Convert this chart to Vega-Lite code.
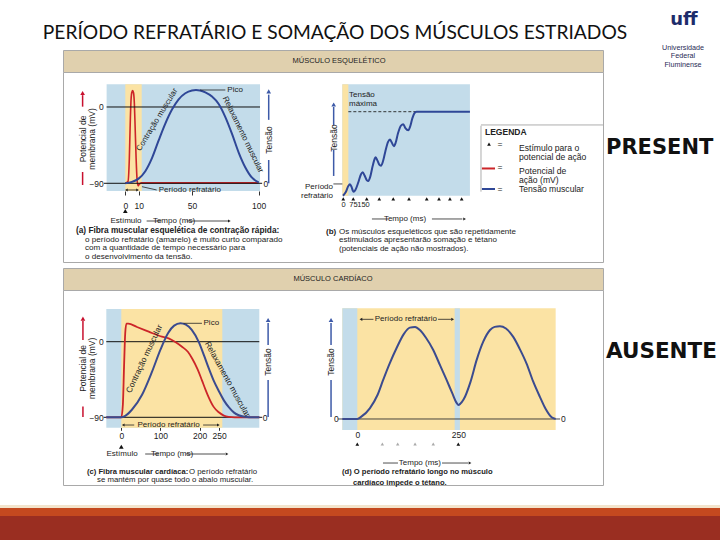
{
"$schema": "https://vega.github.io/schema/vega-lite/v6.json",
"padding": 0,
"background": "white",
"spacing": 0,
"bounds": "flush",
"align": "each",
"columns": 3,
"config": {
 "view": {"stroke": null},
 "font": "Liberation Sans",
 "text": {"font": "Liberation Sans", "fontSize": 8, "color": "#222"},
 "axis": {"grid": false, "domain": false, "ticks": false, "labelFont": "Liberation Sans", "labelFontSize": 8.5, "labelColor": "#222", "labelOverlap": false, "labelFlush": false, "tickColor": "#333"},
 "point": {"filled": true, "opacity": 1},
 "rule": {"color": "#222", "strokeWidth": 0.8}
},
"concat": [
 {"width": 63, "height": 50, "data": {"values": [{}]}, "mark": {"type": "text", "text": ""}, "encoding": {}},
 {"width": 540, "height": 50, "data": {"values": [{}]}, "mark": {"type": "text", "text": "PERÍODO REFRATÁRIO E SOMAÇÃO DOS MÚSCULOS ESTRIADOS", "font": "Lato", "fontSize": 19.2, "color": "#111", "align": "center", "baseline": "middle", "dx": 2, "dy": 8}, "encoding": {}},
 {"width": 117, "height": 50, "data": {"values": [{}]}, "layer": [
  {"mark": {"type": "text", "text": "uff", "font": "DejaVu Sans", "fontWeight": "bold", "fontSize": 18, "color": "#1d2c6b", "align": "center", "baseline": "middle", "dx": 22.5, "dy": -5}, "encoding": {}},
  {"mark": {"type": "text", "text": "Universidade\nFederal\nFluminense", "lineBreak": "\n", "lineHeight": 8.8, "fontSize": 7.2, "color": "#1f2a55", "align": "center", "baseline": "middle", "dx": 21.5, "dy": 22.7}, "encoding": {}}
 ]},

 {"width": 63, "height": 22, "data": {"values": [{}]}, "mark": {"type": "text", "text": ""}, "encoding": {}},
 {"width": 540, "height": 22, "view": {"fill": "#e0d0ae", "stroke": "#a9a9a9"}, "data": {"values": [{}]}, "mark": {"type": "text", "text": "MÚSCULO ESQUELÉTICO", "fontSize": 7.5, "color": "#222", "align": "center", "baseline": "middle", "dx": 6}, "encoding": {}},
 {"width": 117, "height": 22, "data": {"values": [{}]}, "mark": {"type": "text", "text": ""}, "encoding": {}},

 {"width": 63, "height": 190, "data": {"values": [{}]}, "mark": {"type": "text", "text": ""}, "encoding": {}},
 {"width": 540, "height": 190, "view": {"fill": "white", "stroke": "#a9a9a9"},
  "resolve": {"scale": {"x": "independent", "y": "independent"}},
  "layer": [
   {"encoding": {
     "x": {"field": "t", "type": "quantitative", "scale": {"domain": [-14, 101], "range": [43.62, 197.03], "nice": false, "zero": false}, "axis": {"orient": "bottom", "offset": -71, "values": [0, 10, 50, 100], "title": null, "ticks": true, "tickSize": 4, "labelPadding": 6}},
     "y": {"field": "v", "type": "quantitative", "scale": {"domain": [-99.1, 26.8], "range": [119, 12.28], "nice": false, "zero": false}, "axis": {"orient": "left", "offset": -43.3, "values": [0, -90], "title": null, "labelPadding": 3}}
    },
    "layer": [
     {"data": {"values": [{"t": -14, "t2": 101, "v": -99.1, "v2": 26.8}]}, "mark": {"type": "rect", "color": "#c3dcea"}, "encoding": {"x2": {"field": "t2"}, "y2": {"field": "v2"}}},
     {"data": {"values": [{"t": 0, "t2": 12.3, "v": -99.1, "v2": 26.8}]}, "mark": {"type": "rect", "color": "#fbe3a4"}, "encoding": {"x2": {"field": "t2"}, "y2": {"field": "v2"}}},
     {"data": {"values": [{"t": 0, "v": -90}, {"t": 2, "v": -88}, {"t": 3, "v": -62}, {"t": 3.6, "v": -25}, {"t": 4.2, "v": 5}, {"t": 4.8, "v": 16.5}, {"t": 5.5, "v": 19.5}, {"t": 6.2, "v": 16.5}, {"t": 6.8, "v": 4}, {"t": 7.4, "v": -25}, {"t": 8.1, "v": -60}, {"t": 8.8, "v": -85}, {"t": 9.6, "v": -93}, {"t": 10.5, "v": -91}, {"t": 12, "v": -89.5}, {"t": 100, "v": -89.5}]}, "mark": {"type": "line", "color": "#cc2529", "strokeWidth": 1.6, "interpolate": "monotone"}, "encoding": {}},
     {"data": {"values": [{"t": -14, "t2": 101, "v": 0, "v2": 0}, {"t": -16, "t2": 102.6, "v": -90, "v2": -90}]}, "mark": {"type": "rule", "color": "#111", "strokeWidth": 1}, "encoding": {"x2": {"field": "t2"}, "y2": {"field": "v2"}}},
     {"data": {"values": [{"t": 1.5, "t2": 8.5, "v": -97.9, "v2": -97.9}, {"t": 12.5, "t2": 23.5, "v": -94, "v2": -97.9}, {"t": 16, "t2": 27, "v": -134.5, "v2": -134.5}, {"t": 46, "t2": 77, "v": -134.5, "v2": -134.5}]}, "mark": {"type": "rule"}, "encoding": {"x2": {"field": "t2"}, "y2": {"field": "v2"}}},
     {"data": {"values": [{"t": 0.8, "v": -97.9}]}, "mark": {"type": "point", "shape": "triangle-left", "color": "#222", "size": 10}, "encoding": {}},
     {"data": {"values": [{"t": 9.2, "v": -97.9}, {"t": 78, "v": -134.5}]}, "mark": {"type": "point", "shape": "triangle-right", "color": "#222", "size": 10}, "encoding": {}},
     {"data": {"values": [{"t": 0, "v": -122.6}]}, "mark": {"type": "point", "shape": "triangle-up", "color": "#111", "size": 22}, "encoding": {}},
     {"data": {"values": [{"t": 25, "v": -97.9, "txt": "Período refratário"}]}, "mark": {"type": "text", "align": "left", "baseline": "middle"}, "encoding": {"text": {"field": "txt"}}},
     {"data": {"values": [{"t": 0.5, "v": -134.5, "txt": "Estímulo"}, {"t": 36.5, "v": -134.5, "txt": "Tempo (ms)"}]}, "mark": {"type": "text", "align": "center", "baseline": "middle"}, "encoding": {"text": {"field": "txt"}}},
     {"data": {"values": [{"t": -37, "v": -146.2, "txt": "(a) Fibra muscular esquelética de contração rápida:"}]}, "mark": {"type": "text", "align": "left", "baseline": "middle", "fontSize": 8.3, "fontWeight": "bold"}, "encoding": {"text": {"field": "txt"}}},
     {"data": {"values": [{"t": -30.2, "v": -156.9, "txt": "o período refratário (amarelo) é muito curto comparado"}, {"t": -30.2, "v": -166.9, "txt": "com a quantidade de tempo necessário para"}, {"t": -30.2, "v": -176.9, "txt": "o desenvolvimento da tensão."}]}, "mark": {"type": "text", "align": "left", "baseline": "middle", "fontSize": 8.1}, "encoding": {"text": {"field": "txt"}}},
     {"data": {"values": [{"t": -32, "v": -37.7, "txt": "Potencial de\nmembrana (mV)"}]}, "mark": {"type": "text", "angle": 270, "align": "center", "baseline": "middle", "fontSize": 8.5, "lineBreak": "\n", "lineHeight": 9}, "encoding": {"text": {"field": "txt"}}},
     {"data": {"values": [{"t": -32, "t2": -32, "v": 0.4, "v2": 14}, {"t": -32, "t2": -32, "v": -76.7, "v2": -92}]}, "mark": {"type": "rule", "color": "#c8102e", "strokeWidth": 1.5}, "encoding": {"x2": {"field": "t2"}, "y2": {"field": "v2"}}},
     {"data": {"values": [{"t": -32, "v": 16.5}]}, "mark": {"type": "point", "shape": "triangle-up", "color": "#c8102e", "size": 22}, "encoding": {}}
    ]},
   {"encoding": {
     "x": {"field": "t", "type": "quantitative", "scale": {"domain": [-14, 101], "range": [43.62, 197.03], "nice": false, "zero": false}, "axis": null},
     "y": {"field": "v", "type": "quantitative", "scale": {"domain": [-8.25, 106.1], "range": [119, 12.3], "nice": false, "zero": false}, "axis": {"orient": "right", "offset": -343, "values": [0], "title": null, "labelPadding": 3}}
    },
    "layer": [
     {"data": {"values": [{"t": 0, "v": 0}, {"t": 5, "v": 1.5}, {"t": 10, "v": 5}, {"t": 15, "v": 13}, {"t": 20, "v": 27}, {"t": 25, "v": 46}, {"t": 30, "v": 64}, {"t": 35, "v": 79}, {"t": 40, "v": 90}, {"t": 45, "v": 96.5}, {"t": 50, "v": 99.5}, {"t": 53, "v": 100}, {"t": 56, "v": 99.5}, {"t": 60, "v": 97.5}, {"t": 65, "v": 93}, {"t": 70, "v": 85}, {"t": 75, "v": 71}, {"t": 80, "v": 53}, {"t": 85, "v": 33}, {"t": 90, "v": 17}, {"t": 95, "v": 6}, {"t": 100, "v": 1}]}, "mark": {"type": "line", "color": "#2f4797", "strokeWidth": 2, "interpolate": "monotone"}, "encoding": {}},
     {"data": {"values": [{"t": 56, "t2": 75, "v": 100, "v2": 100}]}, "mark": {"type": "rule"}, "encoding": {"x2": {"field": "t2"}, "y2": {"field": "v2"}}},
     {"data": {"values": [{"t": 76.5, "v": 100, "txt": "Pico"}]}, "mark": {"type": "text", "align": "left", "baseline": "middle"}, "encoding": {"text": {"field": "txt"}}},
     {"data": {"values": [{"t": 24, "v": 68, "txt": "Contração muscular"}]}, "mark": {"type": "text", "angle": 301.4, "align": "center", "baseline": "middle", "fontSize": 8}, "encoding": {"text": {"field": "txt"}}},
     {"data": {"values": [{"t": 88, "v": 52, "txt": "Relaxamento muscular"}]}, "mark": {"type": "text", "angle": 64, "align": "center", "baseline": "middle", "fontSize": 8.2}, "encoding": {"text": {"field": "txt"}}},
     {"data": {"values": [{"t": 107.5, "v": 46.4, "txt": "Tensão"}]}, "mark": {"type": "text", "angle": 270, "align": "center", "baseline": "middle", "fontSize": 8.5}, "encoding": {"text": {"field": "txt"}}},
     {"data": {"values": [{"t": 107.5, "t2": 107.5, "v": 68, "v2": 95}, {"t": 107.5, "t2": 107.5, "v": 0, "v2": 25}]}, "mark": {"type": "rule", "color": "#3d5aa8", "strokeWidth": 1.5}, "encoding": {"x2": {"field": "t2"}, "y2": {"field": "v2"}}},
     {"data": {"values": [{"t": 107.5, "v": 98.5}]}, "mark": {"type": "point", "shape": "triangle-up", "color": "#3d5aa8", "size": 22}, "encoding": {}}
    ]},
   {"encoding": {
     "x": {"field": "t", "type": "quantitative", "scale": {"domain": [-5, 952], "range": [279.33, 406.93], "nice": false, "zero": false}, "axis": {"orient": "bottom", "offset": -66.3, "values": [0, 75, 150], "title": null, "labelPadding": 5, "labelFontSize": 7.5}},
     "y": {"field": "v", "type": "quantitative", "scale": {"domain": [0, 132.6], "range": [123.7, 12.3], "nice": false, "zero": false}, "axis": null}
    },
    "layer": [
     {"data": {"values": [{"t": -5, "t2": 952, "v": 0, "v2": 132.6}]}, "mark": {"type": "rect", "color": "#c3dcea"}, "encoding": {"x2": {"field": "t2"}, "y2": {"field": "v2"}}},
     {"data": {"values": [{"t": -5, "t2": 40, "v": 0, "v2": 132.6}]}, "mark": {"type": "rect", "color": "#fbe3a4"}, "encoding": {"x2": {"field": "t2"}, "y2": {"field": "v2"}}},
     {"data": {"values": [{"t": 40, "t2": 552, "v": 100, "v2": 100}]}, "mark": {"type": "rule", "strokeDash": [3, 2], "strokeWidth": 0.9}, "encoding": {"x2": {"field": "t2"}, "y2": {"field": "v2"}}},
     {"data": {"values": [{"t": 0, "v": 0}, {"t": 20, "v": 4}, {"t": 40, "v": 11.5}, {"t": 52, "v": 13.6}, {"t": 64, "v": 10.5}, {"t": 74, "v": 6}, {"t": 82, "v": 4.8}, {"t": 95, "v": 7.5}, {"t": 115, "v": 16}, {"t": 135, "v": 25.5}, {"t": 148, "v": 27.9}, {"t": 162, "v": 24}, {"t": 178, "v": 18.6}, {"t": 190, "v": 17.5}, {"t": 205, "v": 23}, {"t": 222, "v": 35}, {"t": 238, "v": 44}, {"t": 245, "v": 45.7}, {"t": 258, "v": 42}, {"t": 272, "v": 37}, {"t": 285, "v": 35.7}, {"t": 300, "v": 41}, {"t": 318, "v": 53}, {"t": 338, "v": 64}, {"t": 352, "v": 67}, {"t": 365, "v": 63.5}, {"t": 382, "v": 59}, {"t": 395, "v": 63}, {"t": 412, "v": 74}, {"t": 435, "v": 83.5}, {"t": 452, "v": 85}, {"t": 468, "v": 80.5}, {"t": 490, "v": 78}, {"t": 505, "v": 83}, {"t": 520, "v": 92}, {"t": 535, "v": 98}, {"t": 552, "v": 100}, {"t": 952, "v": 100}]}, "mark": {"type": "line", "color": "#2f4797", "strokeWidth": 2, "interpolate": "monotone"}, "encoding": {}},
     {"data": {"values": [{"t": 45, "v": 119.5, "txt": "Tensão\nmáxima"}]}, "mark": {"type": "text", "align": "left", "baseline": "middle", "lineBreak": "\n", "lineHeight": 8.5}, "encoding": {"text": {"field": "txt"}}},
     {"data": {"values": [{"t": 2, "v": -3.9}, {"t": 77, "v": -3.9}, {"t": 178, "v": -3.9}, {"t": 272, "v": -3.9}, {"t": 377, "v": -3.9}, {"t": 495, "v": -3.9}, {"t": 628, "v": -3.9}, {"t": 720, "v": -3.9}, {"t": 802, "v": -3.9}, {"t": 890, "v": -3.9}]}, "mark": {"type": "point", "shape": "triangle-up", "color": "#111", "size": 14}, "encoding": {}},
     {"data": {"values": [{"t": 465, "v": -27.7, "txt": "Tempo (ms)"}]}, "mark": {"type": "text", "align": "center", "baseline": "middle"}, "encoding": {"text": {"field": "txt"}}},
     {"data": {"values": [{"t": 217, "t2": 337, "v": -27.7, "v2": -27.7}, {"t": 667, "t2": 895, "v": -27.7, "v2": -27.7}, {"t": -72, "t2": -5, "v": 14, "v2": 14}]}, "mark": {"type": "rule"}, "encoding": {"x2": {"field": "t2"}, "y2": {"field": "v2"}}},
     {"data": {"values": [{"t": 912, "v": -27.7}]}, "mark": {"type": "point", "shape": "triangle-right", "color": "#222", "size": 10}, "encoding": {}},
     {"data": {"values": [{"t": -127.5, "v": -43.2, "txt": "(b)"}]}, "mark": {"type": "text", "align": "left", "baseline": "middle", "fontSize": 8, "fontWeight": "bold"}, "encoding": {"text": {"field": "txt"}}},
     {"data": {"values": [{"t": -30, "v": -43.2, "txt": "Os músculos esqueléticos que são repetidamente"}, {"t": -30, "v": -52.7, "txt": "estimulados apresentarão somação e tétano"}, {"t": -30, "v": -62.9, "txt": "(potenciais de ação não mostrados)."}]}, "mark": {"type": "text", "align": "left", "baseline": "middle", "fontSize": 8}, "encoding": {"text": {"field": "txt"}}},
     {"data": {"values": [{"t": -70, "v": 68.7, "txt": "Tensão"}]}, "mark": {"type": "text", "angle": 270, "align": "center", "baseline": "middle", "fontSize": 8.5}, "encoding": {"text": {"field": "txt"}}},
     {"data": {"values": [{"t": -70, "t2": -70, "v": 84, "v2": 105.6}, {"t": -70, "t2": -70, "v": 23.5, "v2": 54.4}]}, "mark": {"type": "rule", "color": "#3d5aa8", "strokeWidth": 1.5}, "encoding": {"x2": {"field": "t2"}, "y2": {"field": "v2"}}},
     {"data": {"values": [{"t": -70, "v": 108.5}]}, "mark": {"type": "point", "shape": "triangle-up", "color": "#3d5aa8", "size": 22}, "encoding": {}},
     {"data": {"values": [{"t": -75, "v": 9.8, "txt": "Período\nrefratário"}]}, "mark": {"type": "text", "align": "right", "baseline": "middle", "lineBreak": "\n", "lineHeight": 8.5}, "encoding": {"text": {"field": "txt"}}},
     {"data": {"values": [{"t": 1035, "t2": 1950, "v": 84.2, "v2": 84.2}, {"t": 1035, "t2": 1035, "v": 83.3, "v2": 4.8}]}, "mark": {"type": "rule", "color": "#999", "strokeWidth": 0.8}, "encoding": {"x2": {"field": "t2"}, "y2": {"field": "v2"}}},
     {"data": {"values": [{"t": 1065, "v": 75.5, "txt": "LEGENDA"}]}, "mark": {"type": "text", "align": "left", "baseline": "middle", "fontSize": 8.5, "fontWeight": "bold"}, "encoding": {"text": {"field": "txt"}}},
     {"data": {"values": [{"t": 1095, "v": 61.5}]}, "mark": {"type": "point", "shape": "triangle-up", "color": "#111", "size": 14}, "encoding": {}},
     {"data": {"values": [{"t": 1177.5, "v": 61.5, "txt": "="}, {"t": 1177.5, "v": 34.2, "txt": "="}, {"t": 1177.5, "v": 8, "txt": "="}]}, "mark": {"type": "text", "align": "center", "baseline": "middle", "fontSize": 8.5}, "encoding": {"text": {"field": "txt"}}},
     {"data": {"values": [{"t": 1320, "v": 56.5, "txt": "Estímulo para o\npotencial de ação"}, {"t": 1320, "v": 29.2, "txt": "Potencial de\nação (mV)"}, {"t": 1320, "v": 8, "txt": "Tensão muscular"}]}, "mark": {"type": "text", "align": "left", "baseline": "middle", "lineBreak": "\n", "lineHeight": 9, "fontSize": 8.6}, "encoding": {"text": {"field": "txt"}}},
     {"data": {"values": [{"t": 1042, "t2": 1140, "v": 32.4, "v2": 32.4}]}, "mark": {"type": "rule", "color": "#cc2529", "strokeWidth": 2}, "encoding": {"x2": {"field": "t2"}, "y2": {"field": "v2"}}},
     {"data": {"values": [{"t": 1042, "t2": 1140, "v": 8, "v2": 8}]}, "mark": {"type": "rule", "color": "#2f4797", "strokeWidth": 2}, "encoding": {"x2": {"field": "t2"}, "y2": {"field": "v2"}}}
    ]}
  ]},
 {"width": 117, "height": 190, "data": {"values": [{}]}, "mark": {"type": "text", "text": "PRESENT", "font": "DejaVu Sans", "fontWeight": "bold", "fontSize": 21, "align": "left", "baseline": "middle", "color": "#111", "dx": -55.5, "dy": -19}, "encoding": {}},

 {"width": 63, "height": 6, "data": {"values": [{}]}, "mark": {"type": "text", "text": ""}, "encoding": {}},
 {"width": 540, "height": 6, "data": {"values": [{}]}, "mark": {"type": "text", "text": ""}, "encoding": {}},
 {"width": 117, "height": 6, "data": {"values": [{}]}, "mark": {"type": "text", "text": ""}, "encoding": {}},

 {"width": 63, "height": 22, "data": {"values": [{}]}, "mark": {"type": "text", "text": ""}, "encoding": {}},
 {"width": 540, "height": 22, "view": {"fill": "#e0d0ae", "stroke": "#a9a9a9"}, "data": {"values": [{}]}, "mark": {"type": "text", "text": "MÚSCULO CARDÍACO", "fontSize": 7.5, "color": "#222", "align": "center", "baseline": "middle"}, "encoding": {}},
 {"width": 117, "height": 22, "data": {"values": [{}]}, "mark": {"type": "text", "text": ""}, "encoding": {}},

 {"width": 63, "height": 195, "data": {"values": [{}]}, "mark": {"type": "text", "text": ""}, "encoding": {}},
 {"width": 540, "height": 195, "view": {"fill": "white", "stroke": "#a9a9a9"},
  "resolve": {"scale": {"x": "independent", "y": "independent"}},
  "layer": [
   {"encoding": {
     "x": {"field": "t", "type": "quantitative", "scale": {"domain": [-38.3, 352.5], "range": [43.31, 196.3], "nice": false, "zero": false}, "axis": {"orient": "bottom", "offset": -57.7, "values": [0, 100, 200, 250], "title": null, "ticks": true, "tickSize": 3, "labelPadding": 1}},
     "y": {"field": "v", "type": "quantitative", "scale": {"domain": [-102.3, 38.9], "range": [137.63, 19.02], "nice": false, "zero": false}, "axis": {"orient": "left", "offset": -43.3, "values": [0, -90], "title": null, "labelPadding": 3}}
    },
    "layer": [
     {"data": {"values": [{"t": -38.3, "t2": 352.5, "v": -102.3, "v2": 38.9}]}, "mark": {"type": "rect", "color": "#c3dcea"}, "encoding": {"x2": {"field": "t2"}, "y2": {"field": "v2"}}},
     {"data": {"values": [{"t": 0, "t2": 258, "v": -102.3, "v2": 38.9}]}, "mark": {"type": "rect", "color": "#fbe3a4"}, "encoding": {"x2": {"field": "t2"}, "y2": {"field": "v2"}}},
     {"data": {"values": [{"t": -38.3, "t2": 352.5, "v": 0, "v2": 0}, {"t": -45, "t2": 360, "v": -90, "v2": -90}]}, "mark": {"type": "rule", "color": "#111", "strokeWidth": 1}, "encoding": {"x2": {"field": "t2"}, "y2": {"field": "v2"}}},
     {"data": {"values": [{"t": -38.3, "v": -90}, {"t": 0, "v": -90}, {"t": 4, "v": -75}, {"t": 7, "v": -30}, {"t": 10, "v": 10}, {"t": 13, "v": 21.5}, {"t": 18, "v": 21.5}, {"t": 40, "v": 17.5}, {"t": 70, "v": 12}, {"t": 100, "v": 6.5}, {"t": 121, "v": 4}, {"t": 140, "v": -1}, {"t": 155, "v": -6}, {"t": 170, "v": -12}, {"t": 181, "v": -20}, {"t": 195, "v": -33}, {"t": 206, "v": -46}, {"t": 215, "v": -57}, {"t": 223, "v": -66}, {"t": 235, "v": -77}, {"t": 249, "v": -84}, {"t": 262, "v": -88}, {"t": 274, "v": -89.5}, {"t": 290, "v": -90}, {"t": 352.5, "v": -90}]}, "mark": {"type": "line", "color": "#cc2529", "strokeWidth": 1.8, "interpolate": "monotone"}, "encoding": {}},
     {"data": {"values": [{"t": 8, "t2": 33, "v": -99.2, "v2": -99.2}, {"t": 209, "t2": 245, "v": -99.2, "v2": -99.2}, {"t": 61, "t2": 96, "v": -133.7, "v2": -133.7}, {"t": 165, "t2": 265, "v": -133.7, "v2": -133.7}]}, "mark": {"type": "rule"}, "encoding": {"x2": {"field": "t2"}, "y2": {"field": "v2"}}},
     {"data": {"values": [{"t": 5, "v": -99.2}]}, "mark": {"type": "point", "shape": "triangle-left", "color": "#222", "size": 10}, "encoding": {}},
     {"data": {"values": [{"t": 248, "v": -99.2}, {"t": 270, "v": -133.7}]}, "mark": {"type": "point", "shape": "triangle-right", "color": "#222", "size": 10}, "encoding": {}},
     {"data": {"values": [{"t": 0, "v": -125}]}, "mark": {"type": "point", "shape": "triangle-up", "color": "#111", "size": 22}, "encoding": {}},
     {"data": {"values": [{"t": 120.6, "v": -99.2, "txt": "Período refratário"}, {"t": 2, "v": -133.7, "txt": "Estímulo"}, {"t": 129.6, "v": -133.7, "txt": "Tempo (ms)"}]}, "mark": {"type": "text", "align": "center", "baseline": "middle"}, "encoding": {"text": {"field": "txt"}}},
     {"data": {"values": [{"t": -87.6, "v": -155.7, "txt": "(c) Fibra muscular cardíaca:"}]}, "mark": {"type": "text", "align": "left", "baseline": "middle", "fontSize": 7.6, "fontWeight": "bold"}, "encoding": {"text": {"field": "txt"}}},
     {"data": {"values": [{"t": 173, "v": -155.7, "txt": "O período refratário"}, {"t": -62, "v": -165.2, "txt": "se mantém por quase todo o abalo muscular."}]}, "mark": {"type": "text", "align": "left", "baseline": "middle", "fontSize": 7.8}, "encoding": {"text": {"field": "txt"}}},
     {"data": {"values": [{"t": -98, "v": -31.8, "txt": "Potencial de\nmembrana (mV)"}]}, "mark": {"type": "text", "angle": 270, "align": "center", "baseline": "middle", "fontSize": 8.5, "lineBreak": "\n", "lineHeight": 9}, "encoding": {"text": {"field": "txt"}}},
     {"data": {"values": [{"t": -98, "t2": -98, "v": 2, "v2": 24.6}, {"t": -98, "t2": -98, "v": -77, "v2": -89.6}]}, "mark": {"type": "rule", "color": "#c8102e", "strokeWidth": 1.5}, "encoding": {"x2": {"field": "t2"}, "y2": {"field": "v2"}}},
     {"data": {"values": [{"t": -98, "v": 27.5}]}, "mark": {"type": "point", "shape": "triangle-up", "color": "#c8102e", "size": 22}, "encoding": {}}
    ]},
   {"encoding": {
     "x": {"field": "t", "type": "quantitative", "scale": {"domain": [-38.3, 352.5], "range": [43.31, 196.3], "nice": false, "zero": false}, "axis": null},
     "y": {"field": "v", "type": "quantitative", "scale": {"domain": [-11, 115.2], "range": [137.64, 19.01], "nice": false, "zero": false}, "axis": {"orient": "right", "offset": -343.7, "values": [0], "title": null, "labelPadding": 3}}
    },
    "layer": [
     {"data": {"values": [{"t": -38.3, "v": 0}, {"t": 0, "v": 0}, {"t": 10, "v": 1.5}, {"t": 27, "v": 8}, {"t": 53, "v": 24}, {"t": 78, "v": 48}, {"t": 100, "v": 72}, {"t": 120, "v": 90}, {"t": 135, "v": 97.5}, {"t": 151, "v": 100}, {"t": 165, "v": 98.5}, {"t": 180, "v": 93}, {"t": 198, "v": 80}, {"t": 212, "v": 65}, {"t": 223.5, "v": 52}, {"t": 236, "v": 39}, {"t": 249, "v": 28}, {"t": 262, "v": 18}, {"t": 275, "v": 10.5}, {"t": 288, "v": 5}, {"t": 300, "v": 2.2}, {"t": 315, "v": 0.5}, {"t": 326, "v": 0}, {"t": 352.5, "v": 0}]}, "mark": {"type": "line", "color": "#3b4b8f", "strokeWidth": 2, "interpolate": "monotone"}, "encoding": {}},
     {"data": {"values": [{"t": 159, "t2": 206, "v": 100, "v2": 100}]}, "mark": {"type": "rule"}, "encoding": {"x2": {"field": "t2"}, "y2": {"field": "v2"}}},
     {"data": {"values": [{"t": 210, "v": 100, "txt": "Pico"}]}, "mark": {"type": "text", "align": "left", "baseline": "middle"}, "encoding": {"text": {"field": "txt"}}},
     {"data": {"values": [{"t": 60, "v": 62, "txt": "Contração muscular"}]}, "mark": {"type": "text", "angle": 295.4, "align": "center", "baseline": "middle", "fontSize": 8.3}, "encoding": {"text": {"field": "txt"}}},
     {"data": {"values": [{"t": 270, "v": 40, "txt": "Relaxamento muscular"}]}, "mark": {"type": "text", "angle": 61, "align": "center", "baseline": "middle", "fontSize": 8.3}, "encoding": {"text": {"field": "txt"}}},
     {"data": {"values": [{"t": 375, "v": 58.8, "txt": "Tensão"}]}, "mark": {"type": "text", "angle": 270, "align": "center", "baseline": "middle", "fontSize": 8.5}, "encoding": {"text": {"field": "txt"}}},
     {"data": {"values": [{"t": 375, "t2": 375, "v": 77, "v2": 100.3}, {"t": 375, "t2": 375, "v": 0.3, "v2": 39.7}]}, "mark": {"type": "rule", "color": "#3d5aa8", "strokeWidth": 1.5}, "encoding": {"x2": {"field": "t2"}, "y2": {"field": "v2"}}},
     {"data": {"values": [{"t": 375, "v": 103.5}]}, "mark": {"type": "point", "shape": "triangle-up", "color": "#3d5aa8", "size": 22}, "encoding": {}}
    ]},
   {"encoding": {
     "x": {"field": "t", "type": "quantitative", "scale": {"domain": [-37, 491], "range": [279.35, 492.66], "nice": false, "zero": false}, "axis": {"orient": "bottom", "offset": -55, "values": [0, 250], "title": null, "labelPadding": 0}},
     "y": {"field": "v", "type": "quantitative", "scale": {"domain": [-11.9, 119.9], "range": [139.98, 18.33], "nice": false, "zero": false}, "axis": {"orient": "left", "offset": -279.3, "values": [0], "title": null, "labelPadding": 4}}
    },
    "layer": [
     {"data": {"values": [{"t": -37, "t2": 491, "v": -11.9, "v2": 119.9}]}, "mark": {"type": "rect", "color": "#fbe3a4"}, "encoding": {"x2": {"field": "t2"}, "y2": {"field": "v2"}}},
     {"data": {"values": [{"t": -37, "t2": 0, "v": -11.9, "v2": 119.9}, {"t": 241, "t2": 254, "v": -11.9, "v2": 119.9}]}, "mark": {"type": "rect", "color": "#c3dcea"}, "encoding": {"x2": {"field": "t2"}, "y2": {"field": "v2"}}},
     {"data": {"values": [{"t": -48, "t2": 502, "v": 0, "v2": 0}]}, "mark": {"type": "rule", "color": "#333", "strokeWidth": 0.9}, "encoding": {"x2": {"field": "t2"}, "y2": {"field": "v2"}}},
     {"data": {"values": [{"t": -37, "v": 0}, {"t": 0, "v": 0}, {"t": 10, "v": 2.5}, {"t": 31, "v": 11.6}, {"t": 50, "v": 26}, {"t": 64, "v": 42.3}, {"t": 80, "v": 60}, {"t": 97, "v": 76.6}, {"t": 115, "v": 92}, {"t": 130, "v": 99}, {"t": 143, "v": 99.8}, {"t": 155, "v": 96.4}, {"t": 170, "v": 88}, {"t": 188, "v": 74.8}, {"t": 205, "v": 58}, {"t": 221, "v": 42.3}, {"t": 235, "v": 28}, {"t": 245, "v": 18}, {"t": 250, "v": 15.2}, {"t": 255, "v": 16.5}, {"t": 263, "v": 21}, {"t": 280, "v": 40}, {"t": 295.5, "v": 64}, {"t": 312, "v": 84}, {"t": 328.5, "v": 96.4}, {"t": 340, "v": 99.8}, {"t": 353, "v": 100.5}, {"t": 368, "v": 98}, {"t": 386, "v": 89}, {"t": 402, "v": 76}, {"t": 419, "v": 60}, {"t": 435, "v": 41}, {"t": 452, "v": 24}, {"t": 466, "v": 11}, {"t": 481, "v": 1.8}, {"t": 491, "v": 0}]}, "mark": {"type": "line", "color": "#3b4b8f", "strokeWidth": 2, "interpolate": "monotone"}, "encoding": {}},
     {"data": {"values": [{"t": 11, "t2": 40, "v": 108, "v2": 108}, {"t": 200, "t2": 233, "v": 108, "v2": 108}, {"t": 63.6, "t2": 100.7, "v": -47.7, "v2": -47.7}, {"t": 209.7, "t2": 274, "v": -47.7, "v2": -47.7}]}, "mark": {"type": "rule"}, "encoding": {"x2": {"field": "t2"}, "y2": {"field": "v2"}}},
     {"data": {"values": [{"t": 9, "v": 108}]}, "mark": {"type": "point", "shape": "triangle-left", "color": "#222", "size": 10}, "encoding": {}},
     {"data": {"values": [{"t": 236, "v": 108}, {"t": 279, "v": -47.7}]}, "mark": {"type": "point", "shape": "triangle-right", "color": "#222", "size": 10}, "encoding": {}},
     {"data": {"values": [{"t": 0, "v": -27.1}, {"t": 250, "v": -27.1}]}, "mark": {"type": "point", "shape": "triangle-up", "color": "#111", "size": 14}, "encoding": {}},
     {"data": {"values": [{"t": 62, "v": -27.1}, {"t": 100, "v": -27.1}, {"t": 143, "v": -27.1}, {"t": 188, "v": -27.1}]}, "mark": {"type": "point", "shape": "triangle-up", "color": "#aaaaaa", "size": 12}, "encoding": {}},
     {"data": {"values": [{"t": 120, "v": 108, "txt": "Período refratário"}, {"t": 155, "v": -47.7, "txt": "Tempo (ms)"}]}, "mark": {"type": "text", "align": "center", "baseline": "middle"}, "encoding": {"text": {"field": "txt"}}},
     {"data": {"values": [{"t": 510, "v": 0, "txt": "0"}]}, "mark": {"type": "text", "align": "center", "baseline": "middle", "fontSize": 8.5}, "encoding": {"text": {"field": "txt"}}},
     {"data": {"values": [{"t": -37.9, "v": -56.9, "txt": "(d) O período refratário longo no músculo"}, {"t": -10.6, "v": -69.3, "txt": "cardíaco impede o tétano."}]}, "mark": {"type": "text", "align": "left", "baseline": "middle", "fontSize": 7.6, "fontWeight": "bold"}, "encoding": {"text": {"field": "txt"}}},
     {"data": {"values": [{"t": -65, "v": 61.8, "txt": "Tensão"}]}, "mark": {"type": "text", "angle": 270, "align": "center", "baseline": "middle", "fontSize": 8.5}, "encoding": {"text": {"field": "txt"}}},
     {"data": {"values": [{"t": -65, "t2": -65, "v": 80.2, "v2": 104}, {"t": -65, "t2": -65, "v": 2.2, "v2": 42.3}]}, "mark": {"type": "rule", "color": "#3d5aa8", "strokeWidth": 1.5}, "encoding": {"x2": {"field": "t2"}, "y2": {"field": "v2"}}},
     {"data": {"values": [{"t": -65, "v": 107.3}]}, "mark": {"type": "point", "shape": "triangle-up", "color": "#3d5aa8", "size": 22}, "encoding": {}}
    ]}
  ]},
 {"width": 117, "height": 195, "data": {"values": [{}]}, "mark": {"type": "text", "text": "AUSENTE", "font": "DejaVu Sans", "fontWeight": "bold", "fontSize": 21.5, "align": "left", "baseline": "middle", "color": "#111", "dx": -55.5, "dy": -35.5}, "encoding": {}},

 {"width": 63, "height": 20, "data": {"values": [{}]}, "mark": {"type": "text", "text": ""}, "encoding": {}},
 {"width": 540, "height": 20, "data": {"values": [{}]}, "mark": {"type": "text", "text": ""}, "encoding": {}},
 {"width": 117, "height": 20, "data": {"values": [{}]}, "mark": {"type": "text", "text": ""}, "encoding": {}},

 {"width": 63, "height": 3, "view": {"fill": "#f3e4cc", "stroke": null}, "data": {"values": [{}]}, "mark": {"type": "text", "text": ""}, "encoding": {}},
 {"width": 540, "height": 3, "view": {"fill": "#f3e4cc", "stroke": null}, "data": {"values": [{}]}, "mark": {"type": "text", "text": ""}, "encoding": {}},
 {"width": 117, "height": 3, "view": {"fill": "#f3e4cc", "stroke": null}, "data": {"values": [{}]}, "mark": {"type": "text", "text": ""}, "encoding": {}},

 {"width": 63, "height": 8, "view": {"fill": "#c4491f", "stroke": null}, "data": {"values": [{}]}, "mark": {"type": "text", "text": ""}, "encoding": {}},
 {"width": 540, "height": 8, "view": {"fill": "#c4491f", "stroke": null}, "data": {"values": [{}]}, "mark": {"type": "text", "text": ""}, "encoding": {}},
 {"width": 117, "height": 8, "view": {"fill": "#c4491f", "stroke": null}, "data": {"values": [{}]}, "mark": {"type": "text", "text": ""}, "encoding": {}},

 {"width": 63, "height": 24, "view": {"fill": "#9a2e21", "stroke": null}, "data": {"values": [{}]}, "mark": {"type": "text", "text": ""}, "encoding": {}},
 {"width": 540, "height": 24, "view": {"fill": "#9a2e21", "stroke": null}, "data": {"values": [{}]}, "mark": {"type": "text", "text": ""}, "encoding": {}},
 {"width": 117, "height": 24, "view": {"fill": "#9a2e21", "stroke": null}, "data": {"values": [{}]}, "mark": {"type": "text", "text": ""}, "encoding": {}}
]
}
